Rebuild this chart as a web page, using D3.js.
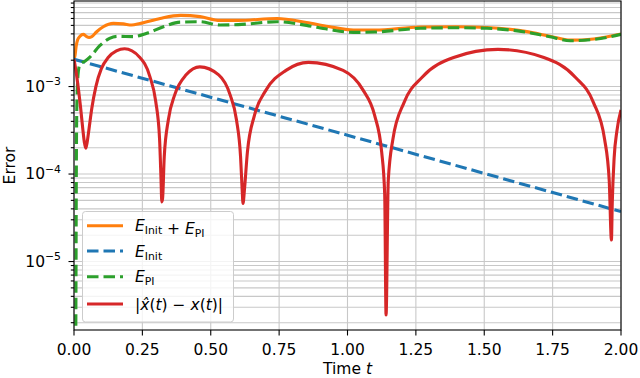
<!DOCTYPE html>
<html>
<head>
<meta charset="utf-8">
<script src="https://cdn.jsdelivr.net/npm/d3@7"></script>
<style>
  body { margin: 0; background: #fff; }
  svg { display: block; font-family: "DejaVu Sans", sans-serif; }
</style>
</head>
<body>
<svg class="chart" width="640" height="378"></svg>
<script>

// time grid and values
const tInit = [0, 1, 2];
const eInit = [2.05e-3, 2.78e-4, 3.72e-5];

const tPI = [0.0065, 0.0075, 0.0085, 0.010, 0.013, 0.016, 0.022, 0.040, 0.060, 0.095, 0.130, 0.160,
             0.217, 0.266, 0.327, 0.388, 0.461, 0.534, 0.600, 0.742, 0.850, 0.930, 1.022, 1.100,
             1.266, 1.400, 1.510, 1.650, 1.740, 1.815, 1.900, 2.000];
const ePI = [1.2e-6, 1e-5, 1e-4, 5e-4, 1.1e-3, 1.5e-3, 1.8e-3, 1.95e-3, 2.2e-3, 2.95e-3, 3.55e-3, 3.75e-3,
             3.72e-3, 4.06e-3, 4.82e-3, 5.45e-3, 5.5e-3, 5.05e-3, 5.1e-3, 5.5e-3, 5.0e-3, 4.5e-3, 4.16e-3, 4.2e-3,
             4.63e-3, 4.7e-3, 4.63e-3, 4.2e-3, 3.7e-3, 3.34e-3, 3.45e-3, 3.95e-3];

const tSum = [0, 0.004, 0.008, 0.013, 0.022, 0.034, 0.045, 0.055, 0.065, 0.083, 0.107, 0.144, 0.180,
              0.211, 0.241, 0.315, 0.390, 0.461, 0.534, 0.600, 0.742, 0.850, 0.930, 1.022, 1.100,
              1.266, 1.400, 1.510, 1.650, 1.740, 1.815, 1.900, 2.000];
const eSum = [2.05e-3, 2.3e-3, 2.9e-3, 3.4e-3, 3.75e-3, 3.95e-3, 3.75e-3, 3.65e-3, 3.72e-3, 4.23e-3, 4.82e-3, 5.27e-3, 5.2e-3,
              5.05e-3, 5.25e-3, 6.0e-3, 6.5e-3, 6.3e-3, 5.7e-3, 5.7e-3, 6.0e-3, 5.4e-3, 4.85e-3, 4.43e-3, 4.42e-3,
              4.79e-3, 4.83e-3, 4.73e-3, 4.27e-3, 3.76e-3, 3.39e-3, 3.5e-3, 3.99e-3];

const tErr = [0, 0.008, 0.016, 0.024, 0.032, 0.038, 0.043, 0.048, 0.055, 0.065, 0.080, 0.100, 0.125, 0.155, 0.185,
              0.239, 0.2775, 0.299, 0.3128, 0.3183, 0.321,
              0.324, 0.330, 0.345, 0.3685, 0.410, 0.460, 0.529, 0.5705, 0.594, 0.609, 0.615, 0.618,
              0.623, 0.634, 0.660, 0.702, 0.775, 0.857, 0.984, 1.057, 1.099, 1.125, 1.136, 1.141,
              1.149, 1.166, 1.207, 1.273, 1.388, 1.550, 1.718, 1.833, 1.899, 1.940, 1.957, 1.965,
              1.968, 1.975, 1.985, 2.000];
const eErr = [2.05e-3, 1.45e-3, 9.5e-4, 5.8e-4, 3.3e-4, 2.3e-4, 1.97e-4, 2.3e-4, 3.3e-4, 5.6e-4, 1.0e-3, 1.6e-3, 2.15e-3, 2.55e-3, 2.7e-3,
              2.18e-3, 1.3e-3, 6.7e-4, 2.54e-4, 8.5e-5, 4.8e-5,
              5.3e-5, 1.58e-4, 4.18e-4, 8.09e-4, 1.36e-3, 1.68e-3, 1.36e-3, 8.09e-4, 4.18e-4, 1.58e-4, 6.5e-5, 4.6e-5,
              6.5e-5, 1.78e-4, 4.7e-4, 9.1e-4, 1.53e-3, 1.89e-3, 1.53e-3, 9.1e-4, 4.7e-4, 1.78e-4, 5.9e-5, 2.45e-6,
              8.35e-5, 2.5e-4, 6.6e-4, 1.28e-3, 2.15e-3, 2.66e-3, 2.15e-3, 1.28e-3, 6.6e-4, 2.5e-4, 8.35e-5, 1.76e-5,
              4.6e-5, 1.54e-4, 3.1e-4, 5.4e-4];

const xTicks = [0, 0.25, 0.5, 0.75, 1.0, 1.25, 1.5, 1.75, 2.0];
const yMajor = [1e-5, 1e-4, 1e-3];
const yExp = ["\u22125", "\u22124", "\u22123"];

const W = 640, H = 378;
const box = {left: 74, right: 621, top: 1, bottom: 330};

const x = d3.scaleLinear().domain([0, 2]).range([box.left, box.right]);
const y = d3.scaleLog().domain([1.65e-6, 9.5e-3]).range([box.bottom, box.top]);

const svg = d3.select('.chart');
svg.append('rect').attr('width', W).attr('height', H).attr('fill', '#fff');

svg.append('clipPath').attr('id', 'clip')
  .append('rect')
  .attr('x', box.left).attr('y', box.top)
  .attr('width', box.right - box.left).attr('height', box.bottom - box.top);

// grid
const yAll = y.ticks().filter(v => v >= y.domain()[0] && v <= y.domain()[1]);
const grid = svg.append('g').attr('stroke', '#c8c8c8').attr('stroke-width', 1.1);
grid.selectAll('.gy').data(yAll).join('line')
  .attr('x1', box.left).attr('x2', box.right)
  .attr('y1', d => y(d)).attr('y2', d => y(d));
grid.selectAll('.gx').data(xTicks).join('line')
  .attr('x1', d => x(d)).attr('x2', d => x(d))
  .attr('y1', box.top).attr('y2', box.bottom);

// series
const zip = (ts, vs) => ts.map((t, i) => [t, vs[i]]);
const smooth = d3.line().x(d => x(d[0])).y(d => y(d[1])).curve(d3.curveMonotoneX);
const straight = d3.line().x(d => x(d[0])).y(d => y(d[1]));

const series = [
  { data: zip(tSum, eSum), color: '#ff7f0e', dash: null, gen: smooth },
  { data: zip(tInit, eInit), color: '#1f77b4', dash: '11.5,5', gen: straight },
  { data: zip(tPI, ePI), color: '#2ca02c', dash: '11.5,5', gen: smooth },
  { data: zip(tErr, eErr), color: '#d62728', dash: null, gen: smooth }
];

const plot = svg.append('g').attr('clip-path', 'url(#clip)');
plot.selectAll('path').data(series).join('path')
  .attr('d', d => d.gen(d.data))
  .attr('fill', 'none')
  .attr('stroke', d => d.color)
  .attr('stroke-width', 3.1)
  .attr('stroke-dasharray', d => d.dash)
  .attr('stroke-linejoin', 'round');

// spines
svg.append('rect')
  .attr('x', box.left).attr('y', box.top)
  .attr('width', box.right - box.left).attr('height', box.bottom - box.top)
  .attr('fill', 'none').attr('stroke', '#000').attr('stroke-width', 1.1);

// ticks
const tk = svg.append('g').attr('stroke', '#000').attr('stroke-width', 1.1);
tk.selectAll('.xt').data(xTicks).join('line')
  .attr('x1', d => x(d)).attr('x2', d => x(d))
  .attr('y1', box.bottom).attr('y2', box.bottom + 5.5);
tk.selectAll('.ymin').data(yAll).join('line')
  .attr('x1', box.left).attr('x2', d => box.left - (yMajor.includes(d) ? 5.5 : 3.2))
  .attr('y1', d => y(d)).attr('y2', d => y(d));

const fs = 15.5;
svg.append('g').selectAll('text').data(xTicks).join('text')
  .attr('x', d => x(d)).attr('y', 355)
  .attr('text-anchor', 'middle').attr('font-size', fs)
  .text(d => d.toFixed(2));

const yl = svg.append('g').selectAll('text').data(yMajor).join('text')
  .attr('x', 61).attr('y', d => y(d) + 5.3)
  .attr('text-anchor', 'end').attr('font-size', fs);
yl.append('tspan').text('10');
yl.append('tspan').attr('dy', -6.5).attr('font-size', fs * 0.7).text((d, i) => yExp[i]);

svg.append('text')
  .attr('transform', 'translate(14.5,165.5) rotate(-90)')
  .attr('text-anchor', 'middle').attr('font-size', fs)
  .text('Error');

const xl = svg.append('text').attr('x', 347.5).attr('y', 374)
  .attr('text-anchor', 'middle').attr('font-size', fs);
xl.append('tspan').text('Time ');
xl.append('tspan').attr('font-style', 'italic').text('t');

// legend
const lg = svg.append('g');
lg.append('rect')
  .attr('x', 82.5).attr('y', 211.5).attr('width', 151).attr('height', 110.5).attr('rx', 3)
  .attr('fill', '#fff').attr('fill-opacity', 0.8)
  .attr('stroke', '#cccccc').attr('stroke-width', 1);

const rows = [225.7, 251, 276.7, 304];
series.forEach((s, i) => {
  lg.append('line')
    .attr('x1', 87).attr('x2', 123).attr('y1', rows[i]).attr('y2', rows[i])
    .attr('stroke', s.color).attr('stroke-width', 3.1)
    .attr('stroke-dasharray', s.dash);
});

function sub(t, base, s) {
  t.append('tspan').attr('font-style', 'italic').text(base);
  t.append('tspan').attr('dy', 3).attr('font-size', fs * 0.7).text(s);
  t.append('tspan').attr('dy', -3).text('');
}
const l0 = lg.append('text').attr('x', 135).attr('y', rows[0] + 5.5).attr('font-size', fs);
sub(l0, 'E', 'Init');
l0.append('tspan').text(' + ');
sub(l0, 'E', 'PI');
const l1 = lg.append('text').attr('x', 135).attr('y', rows[1] + 5.5).attr('font-size', fs);
sub(l1, 'E', 'Init');
const l2 = lg.append('text').attr('x', 135).attr('y', rows[2] + 5.5).attr('font-size', fs);
sub(l2, 'E', 'PI');
const l3 = lg.append('text').attr('x', 135).attr('y', rows[3] + 5.5).attr('font-size', fs);
l3.append('tspan').text('|');
l3.append('tspan').attr('font-style', 'italic').text('x\u0302');
l3.append('tspan').text('(');
l3.append('tspan').attr('font-style', 'italic').text('t');
l3.append('tspan').text(') \u2212 ');
l3.append('tspan').attr('font-style', 'italic').text('x');
l3.append('tspan').text('(');
l3.append('tspan').attr('font-style', 'italic').text('t');
l3.append('tspan').text(')|');

</script>
</body>
</html>
